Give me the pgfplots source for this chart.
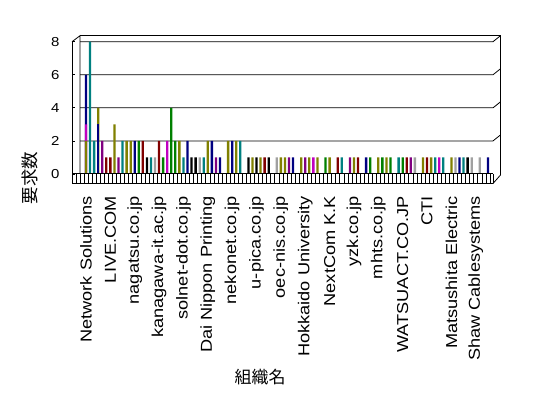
\documentclass[border=0pt]{standalone}
\usepackage{fontspec}
\usepackage{pgfplots}
\pgfplotsset{compat=1.18}
\newfontfamily\labfont[FakeStretch=1.15]{Liberation Sans}
\newfontfamily\cjk{Noto Sans CJK JP}
\definecolor{cnavy}{HTML}{000080}
\definecolor{cteal}{HTML}{008080}
\definecolor{colive}{HTML}{808000}
\definecolor{cpurple}{HTML}{800080}
\definecolor{cmaroon}{HTML}{800000}
\definecolor{cgreen}{HTML}{008000}
\definecolor{cgray}{HTML}{A0A0A0}
\definecolor{cmagenta}{HTML}{C000C0}
\pgfplotsset{mybar/.style={ybar, bar width=2.3pt, bar shift=0pt, draw=none, fill=#1}}
\begin{document}
\begin{tikzpicture}
\path[use as bounding box] (0,0) rectangle (548pt,398pt);
\begin{axis}[
  at={(72pt,224pt)}, anchor=south west,
  scale only axis, width=421pt, height=132.3pt,
  xmin=-3.448, xmax=100.246, ymin=0, ymax=8,
  clip=false,
  axis lines*=left,
  axis line style={draw=none},
  ytick={0,2,4,6,8},
  tick align=inside,
  major tick length=3pt,
  ytick style={black, line width=0.7pt},
  xtick style={draw=none},
  /pgf/number format/assume math mode=true,
  yticklabel style={font=\labfont\fontsize{13}{15}\selectfont, xshift=-9pt},
  xtick={0,6,...,96},
  xticklabels={Network Solutions, LIVE.COM, nagatsu.co.jp, kanagawa-it.ac.jp, solnet-dot.co.jp, Dai Nippon Printing, nekonet.co.jp, u-pica.co.jp, oec-nis.co.jp, Hokkaido University, NextCom K.K, yzk.co.jp, mhts.co.jp, WATSUACT.CO.JP, CTI, Matsushita Electric, Shaw Cablesystems},
  xticklabel style={rotate=90, anchor=east, inner sep=0pt, font=\labfont\fontsize{15.8}{18}\selectfont},
  xticklabel shift=22pt,
]
% back wall and gridlines
\draw[line width=0.8pt] ([shift={(8pt,6pt)}]axis cs:-3.448,8) -- ([shift={(7.5pt,6pt)}]axis cs:100.246,8) -- ([shift={(7.5pt,-1pt)}]axis cs:100.246,0);
\draw[line width=0.8pt] (axis cs:-3.448,8) -- ([shift={(8pt,6pt)}]axis cs:-3.448,8) -- ([shift={(8pt,0pt)}]axis cs:-3.448,0);
\draw[line width=0.8pt] ([xshift=8pt]axis cs:-3.448,8) -- (axis cs:100.246,8) -- ([shift={(7.5pt,6pt)}]axis cs:100.246,8);
\draw[line width=0.8pt] ([xshift=8pt]axis cs:-3.448,6) -- (axis cs:100.246,6) -- ([shift={(7.5pt,6pt)}]axis cs:100.246,6);
\draw[line width=0.8pt] ([xshift=8pt]axis cs:-3.448,4) -- (axis cs:100.246,4) -- ([shift={(7.5pt,6pt)}]axis cs:100.246,4);
\draw[line width=0.8pt] ([xshift=8pt]axis cs:-3.448,2) -- (axis cs:100.246,2) -- ([shift={(7.5pt,6pt)}]axis cs:100.246,2);
% bars
\addplot[mybar=cnavy] coordinates {(0,6) (12,2) (25,2) (31,2) (33,1) (36,2) (51,1) (69,1) (92,1) (99,1)};
\addplot[mybar=cmagenta] coordinates {(0,3) (20,2) (56,1) (87,1)};
\addplot[mybar=colive] coordinates {(0,2) (3,4) (7,3) (10,2) (11,2) (23,2) (30,2) (35,2) (37,2) (41,1) (43,1) (48,1) (49,1) (53,1) (55,1) (57,1) (60,1) (66,1) (72,1) (74,1) (83,1) (85,1) (90,1)};
\addplot[mybar=cteal] coordinates {(1,8) (2,2) (9,2) (16,1) (24,1) (29,1) (38,2) (63,1) (77,1) (86,1) (88,1) (93,1)};
\addplot[mybar=cpurple] coordinates {(4,2) (8,1) (32,1) (50,1) (54,1) (65,1) (80,1)};
\addplot[mybar=cmaroon] coordinates {(5,1) (6,1) (14,2) (18,2) (44,1) (62,1) (67,1) (79,1) (84,1)};
\addplot[mybar=black] coordinates {(15,1) (26,1) (27,1) (40,1) (42,1) (45,1) (94,1)};
\addplot[mybar=cgreen] coordinates {(13,2) (19,1) (21,4) (22,2) (59,1) (70,1) (73,1) (75,1) (78,1)};
\addplot[mybar=cgray] coordinates {(17,1) (28,1) (47,1) (81,1) (91,1) (95,1) (97,1)};
\addplot[mybar=cnavy] coordinates {(3,3)};
% floor front face and front edge
\draw[line width=0.8pt] (axis cs:-3.448,8) -- ([yshift=-9.5pt]axis cs:-3.448,0);
\draw[line width=1pt] (axis cs:-3.448,0) -- (axis cs:100.246,0);
\draw[line width=0.8pt] ([yshift=-9.5pt]axis cs:-3.448,0) -- ([yshift=-9.5pt]axis cs:100.246,0) -- ([shift={(7.5pt,-1pt)}]axis cs:100.246,0);
\draw[line width=0.8pt] (axis cs:100.246,0) -- ([yshift=-9.5pt]axis cs:100.246,0);
\pgfplotsinvokeforeach{-2.5,-1.5,...,99.5}{\draw[line width=0.6pt] (axis cs:#1,0) -- ([yshift=-9.5pt]axis cs:#1,0);}
\end{axis}
\node[font=\cjk\fontsize{17}{20}\selectfont] at (260pt,21pt) {組織名};
\node[rotate=90, font=\cjk\fontsize{17.5}{20}\selectfont] at (30pt,220pt) {要求数};
\end{tikzpicture}
\end{document}
